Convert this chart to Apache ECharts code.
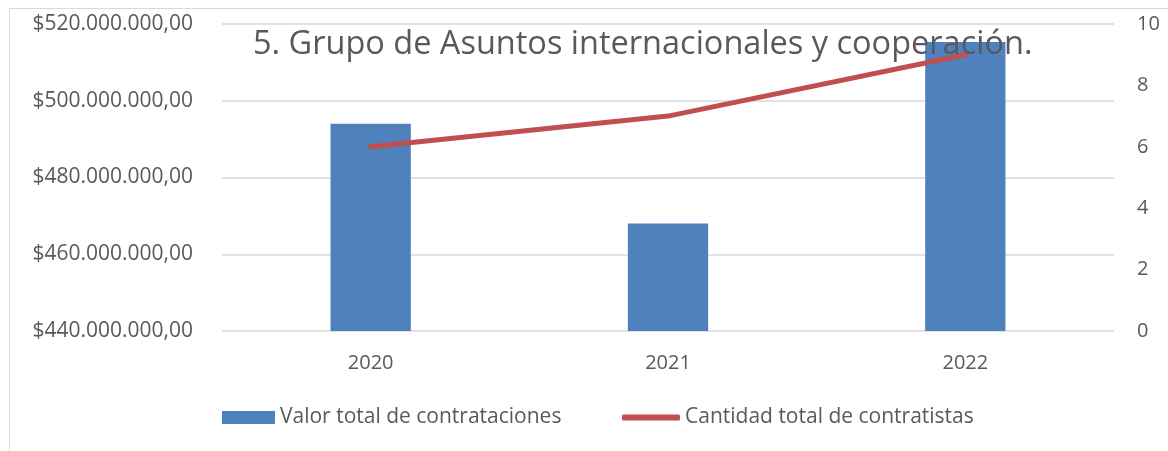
<!DOCTYPE html>
<html>
<head>
<meta charset="utf-8">
<script src="https://cdn.jsdelivr.net/npm/echarts@6/dist/echarts.min.js"></script>
<style>
  html, body { margin: 0; padding: 0; background: #fff; }
  #frame { position: absolute; left: 9px; top: 8px; width: 1200px; height: 500px; border: 1px solid #d9d9d9; box-sizing: border-box; }
  #chart { position: absolute; left: 0; top: 0; width: 1168px; height: 451px; }
</style>
</head>
<body>
<div id="frame"></div>
<div id="chart"></div>
<script>
// data
const years = ['2020', '2021', '2022']
const valorTotal = [494000000, 468000000, 515300000]
const cantidadContratistas = [6, 7, 9]
const titleText = '5. Grupo de Asuntos internacionales y cooperación.'

const textColor = '#595959'
const font = 'Open Sans'

function money(v) {
  const s = String(Math.round(v)).replace(/\B(?=(\d{3})+(?!\d))/g, '.')
  return '$' + s + ',00'
}

const legendText = { fontFamily: font, fontSize: 21, color: textColor, padding: [0, 0, 0, 0] }

const chart = echarts.init(document.getElementById('chart'))
chart.setOption({
  animation: false,
  textStyle: { fontFamily: font, color: textColor },
  title: {
    text: titleText,
    left: 248,
    top: 23,
    textStyle: { fontFamily: font, fontSize: 32.5, fontWeight: 'normal', color: textColor }
  },
  grid: { left: 222, right: 54, top: 24, bottom: 120 },
  legend: [
    {
      left: 217,
      top: 402,
      itemWidth: 53,
      itemHeight: 13,
      textStyle: legendText,
      data: [{ name: 'Valor total de contrataciones', icon: 'rect' }]
    },
    {
      left: 617,
      top: 402,
      itemWidth: 58,
      itemHeight: 6,
      textStyle: legendText,
      data: [{ name: 'Cantidad total de contratistas', icon: 'roundRect' }]
    }
  ],
  xAxis: {
    type: 'category',
    data: years,
    axisLine: { show: false },
    axisTick: { show: false },
    axisLabel: { fontSize: 20, color: textColor, margin: 22 }
  },
  yAxis: [
    {
      type: 'value',
      min: 440000000,
      max: 520000000,
      interval: 20000000,
      axisLabel: { fontSize: 21, color: textColor, margin: 29, formatter: money },
      splitLine: { lineStyle: { color: '#d9d9d9', width: 1.5 } }
    },
    {
      type: 'value',
      min: 0,
      max: 10,
      interval: 2,
      position: 'right',
      axisLabel: { fontSize: 20, color: textColor, margin: 23 },
      splitLine: { show: false }
    }
  ],
  series: [
    {
      name: 'Valor total de contrataciones',
      type: 'bar',
      data: valorTotal,
      barWidth: '27%',
      itemStyle: { color: '#4f81bd' }
    },
    {
      name: 'Cantidad total de contratistas',
      type: 'line',
      yAxisIndex: 1,
      data: cantidadContratistas,
      symbol: 'none',
      itemStyle: { color: '#c0504d' },
      lineStyle: { color: '#c0504d', width: 5, cap: 'round' }
    }
  ]
})
</script>
</body>
</html>
